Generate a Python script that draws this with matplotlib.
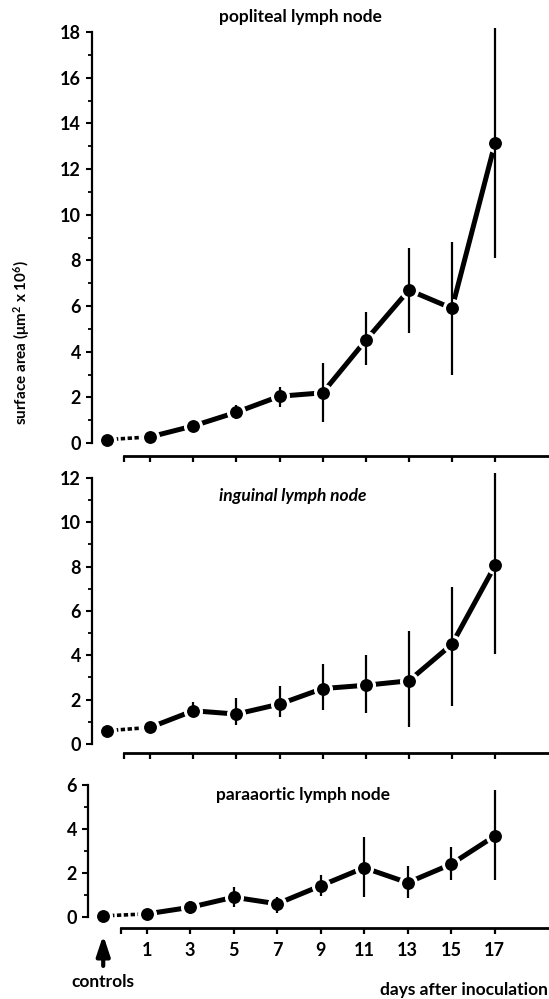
import matplotlib.pyplot as plt
from matplotlib.ticker import MultipleLocator

# days after inoculation, controls are drawn at x = -1
days = [1, 3, 5, 7, 9, 11, 13, 15, 17]
day_labels = ["1", "3", "5", "7", "9", "11", "13", "15", "17"]
control_x = -1

popliteal_ctrl = 0.15
popliteal_mean = [0.27, 0.75, 1.35, 2.05, 2.2, 4.5, 6.7, 5.9, 13.15]
popliteal_lo = [0.27, 0.55, 1.05, 1.6, 0.93, 3.4, 4.8, 3.0, 8.1]
popliteal_hi = [0.27, 0.93, 1.65, 2.45, 3.5, 5.75, 8.55, 8.8, 18.2]

inguinal_ctrl = 0.6
inguinal_mean = [0.75, 1.5, 1.35, 1.8, 2.5, 2.65, 2.85, 4.5, 8.05]
inguinal_lo = [0.75, 1.23, 0.86, 1.2, 1.53, 1.38, 0.75, 1.7, 4.08]
inguinal_hi = [0.75, 1.9, 2.06, 2.6, 3.6, 4.0, 5.1, 7.1, 12.2]

paraaortic_ctrl = 0.05
paraaortic_mean = [0.14, 0.44, 0.9, 0.6, 1.42, 2.24, 1.56, 2.4, 3.68]
paraaortic_lo = [0.14, 0.14, 0.44, 0.2, 0.95, 0.92, 0.85, 1.68, 1.68]
paraaortic_hi = [0.14, 0.74, 1.35, 0.92, 1.9, 3.62, 2.32, 3.17, 5.77]

plt.rcParams["font.family"] = ["Lato", "DejaVu Sans"]
plt.rcParams["font.weight"] = "bold"
plt.rcParams["mathtext.fontset"] = "custom"
plt.rcParams["mathtext.rm"] = "Lato:bold"
plt.rcParams["mathtext.it"] = "Lato:bold"

W, H = 549, 999
XLIM = (-1.7, 19.5)


def make_axes(fig, left_px, bottom_px, top_px, ylim):
    # pixel box -> figure fraction
    ax = fig.add_axes([left_px / W, 1 - bottom_px / H, 1 - left_px / W, (bottom_px - top_px) / H])
    ax.set_xlim(*XLIM)
    ax.set_ylim(*ylim)
    return ax


def draw_panel(ax, ctrl, mean, lo, hi, ymax, title, title_y, italic=False, show_labels=False):
    # dotted link from controls to day 1
    ax.plot([control_x, days[0]], [ctrl, mean[0]], color="black", lw=2.6,
            linestyle=(0, (1.2, 0.7)), zorder=2)
    ax.plot(days, mean, color="black", lw=3.6, zorder=2)
    # white rim makes the little gaps where line meets the dot
    ax.plot([control_x] + days, [ctrl] + mean, "o", color="black", ms=11.5,
            mec="white", mew=2.2, zorder=3, clip_on=False)
    ax.vlines(days, lo, hi, color="black", lw=1.6, zorder=4, clip_on=False)

    for side in ["top", "right"]:
        ax.spines[side].set_visible(False)
    ax.spines["left"].set_bounds(0, ymax)
    ax.spines["left"].set_linewidth(1.6)
    ax.spines["bottom"].set_bounds(-0.2, XLIM[1])
    ax.spines["bottom"].set_linewidth(2.0)

    ax.yaxis.set_major_locator(MultipleLocator(2))
    ax.yaxis.set_minor_locator(MultipleLocator(1))
    ax.tick_params(axis="y", which="major", direction="out", length=4, width=1.5,
                   labelsize=13, pad=4)
    ax.tick_params(axis="y", which="minor", direction="out", length=3, width=1.3)

    ax.set_xticks(days)
    ax.set_xticks([-0.2], minor=True)
    ax.tick_params(axis="x", which="both", direction="out", length=4, width=1.6,
                   labelsize=13, pad=6)
    if show_labels:
        ax.set_xticklabels(day_labels)
    else:
        ax.set_xticklabels([])

    ax.text(4.2, title_y, title, ha="left", va="center", fontsize=12.5,
            fontstyle="italic" if italic else "normal", fontweight="bold")


fig = plt.figure(figsize=(W / 100, H / 100), dpi=100)

ax_top = make_axes(fig, 92, 455.6, 23, (-0.55, 18.4))
draw_panel(ax_top, popliteal_ctrl, popliteal_mean, popliteal_lo, popliteal_hi,
           18, "popliteal lymph node", 18.66)

ax_mid = make_axes(fig, 92, 752.9, 469, (-0.4, 12.4))
draw_panel(ax_mid, inguinal_ctrl, inguinal_mean, inguinal_lo, inguinal_hi,
           12, "inguinal lymph node", 11.2, italic=True)

ax_bot = make_axes(fig, 88, 928, 776.2, (-0.5, 6.4))
draw_panel(ax_bot, paraaortic_ctrl, paraaortic_mean, paraaortic_lo, paraaortic_hi,
           6, "paraaortic lymph node", 5.55, show_labels=True)

# controls arrow + labels under the bottom panel
ax_bot.annotate("", xy=(control_x, -0.7), xytext=(control_x, -2.35),
                arrowprops=dict(arrowstyle="-|>,head_length=0.75,head_width=0.25",
                                color="black", lw=3, mutation_scale=16),
                annotation_clip=False)
ax_bot.text(control_x, -2.95, "controls", ha="center", va="center", fontsize=12.5)
ax_bot.text(19.45, -3.3, "days after inoculation", ha="right", va="center", fontsize=12.5)

fig.text(22 / W, 1 - 343 / H, r"surface area ($\mu$m$^2$ x 10$^6$)", rotation=90,
         ha="center", va="center", fontsize=11)

fig.savefig("out.png", dpi=100)
plt.close(fig)
